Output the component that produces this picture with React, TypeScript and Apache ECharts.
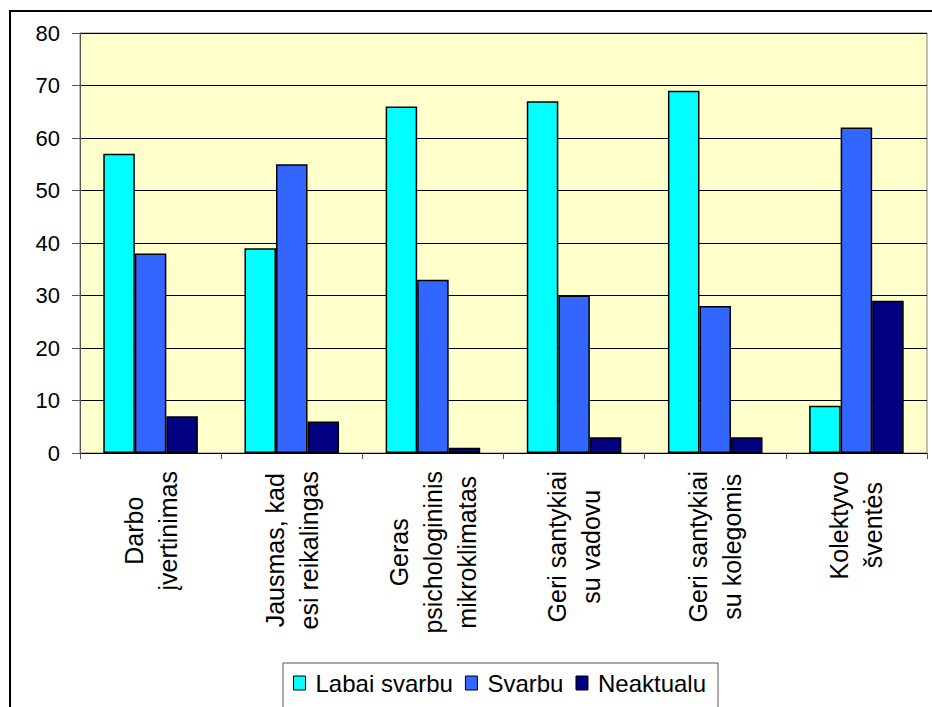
import React, { useEffect, useRef } from "react";
import * as echarts from "echarts";

// Workplace motivation factors, grouped by how important respondents rated them
const categories = [
  "Darbo\nįvertinimas",
  "Jausmas, kad\nesi reikalingas",
  "Geras\npsichologininis\nmikroklimatas",
  "Geri santykiai\nsu vadovu",
  "Geri santykiai\nsu kolegomis",
  "Kolektyvo\nšventės",
];

const seriesNames = ["Labai svarbu", "Svarbu", "Neaktualu"];

const labaiSvarbu = [57, 39, 66, 67, 69, 9];
const svarbu = [38, 55, 33, 30, 28, 62];
const neaktualu = [7, 6, 1, 3, 3, 29];

const yTicks = { min: 0, max: 80, interval: 10 };

const colors = ["#00FFFF", "#3366FF", "#000080"];

const FONT = 'Arial, "Liberation Sans", sans-serif';

export default function App() {
  const ref = useRef<HTMLDivElement>(null);

  useEffect(() => {
    if (!ref.current) return;
    const chart = echarts.init(ref.current, null, { renderer: "svg" });

    const values = [labaiSvarbu, svarbu, neaktualu];

    chart.setOption({
      animation: false,
      backgroundColor: "#FFFFFF",
      textStyle: { fontFamily: FONT },
      graphic: [
        {
          // outer chart frame
          type: "rect",
          shape: { x: 10, y: 11, width: 1000, height: 1000 },
          style: { fill: "none", stroke: "#000", lineWidth: 2 },
          silent: true,
          z: 100,
        },
      ],
      grid: {
        left: 80,
        top: 33,
        right: 5,
        bottom: 254,
        show: true,
        backgroundColor: "#FFFFCC",
        borderColor: "#808080",
        borderWidth: 1,
      },
      legend: {
        data: seriesNames,
        left: 283,
        top: 663,
        orient: "horizontal",
        padding: [8, 12, 30, 10],
        itemGap: 12,
        itemWidth: 12,
        itemHeight: 14,
        icon: "rect",
        borderColor: "#555",
        borderWidth: 1,
        backgroundColor: "#FFFFFF",
        itemStyle: { borderColor: "#000", borderWidth: 1 },
        textStyle: {
          fontFamily: FONT,
          fontSize: 24,
          color: "#000",
          padding: [0, 0, 0, 5],
        },
      },
      xAxis: {
        type: "category",
        data: categories,
        boundaryGap: true,
        axisLine: { show: true, lineStyle: { color: "#000", width: 1 } },
        axisTick: {
          show: true,
          alignWithLabel: false,
          interval: 0,
          length: 6,
          lineStyle: { color: "#555" },
        },
        axisLabel: {
          interval: 0,
          rotate: 90,
          margin: 18,
          hideOverlap: false,
          fontFamily: FONT,
          fontSize: 25,
          lineHeight: 34,
          color: "#000",
          formatter: (v: string) =>
            v
              .split("\n")
              .map((l) => `{c|${l}}`)
              .join("\n"),
          rich: {
            c: {
              align: "center",
              fontFamily: FONT,
              fontSize: 25,
              lineHeight: 34,
              color: "#000",
            },
          },
        },
        splitLine: { show: false },
      },
      yAxis: {
        type: "value",
        min: yTicks.min,
        max: yTicks.max,
        interval: yTicks.interval,
        axisLine: { show: true, lineStyle: { color: "#555", width: 1 } },
        axisTick: { show: true, length: 8, lineStyle: { color: "#555" } },
        axisLabel: {
          fontFamily: FONT,
          fontSize: 22,
          color: "#000",
          margin: 20,
        },
        splitLine: { show: true, lineStyle: { color: "#000", width: 1 } },
      },
      series: seriesNames.map((name, i) => ({
        name,
        type: "bar",
        data: values[i],
        barGap: "0%",
        barCategoryGap: "33%",
        itemStyle: {
          color: colors[i],
          borderColor: "#000",
          borderWidth: 1.5,
        },
      })),
    });

    return () => chart.dispose();
  }, []);

  return (
    <div
      ref={ref}
      style={{
        position: "fixed",
        left: 0,
        top: 0,
        width: 932,
        height: 707,
        background: "#FFFFFF",
      }}
    />
  );
}
